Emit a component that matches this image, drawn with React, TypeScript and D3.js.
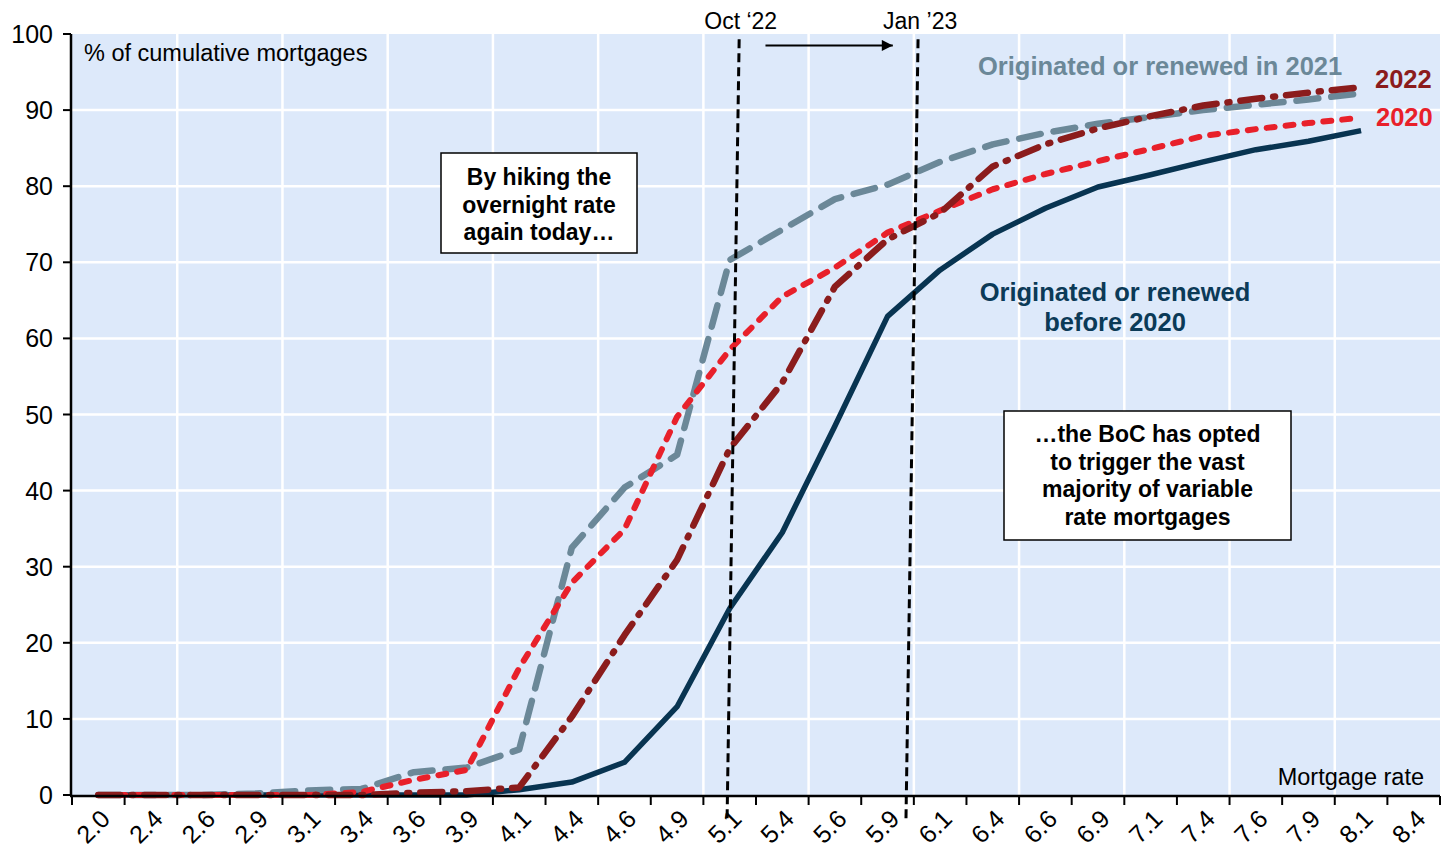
import React, { useEffect, useRef } from 'react';
import * as d3 from 'd3';

// mortgage rate buckets (category axis)
const rateLabels = [
  '2.0', '2.4', '2.6', '2.9', '3.1', '3.4', '3.6', '3.9', '4.1', '4.4', '4.6', '4.9', '5.1',
  '5.4', '5.6', '5.9', '6.1', '6.4', '6.6', '6.9', '7.1', '7.4', '7.6', '7.9', '8.1', '8.4',
];

// % of cumulative mortgages, one value per rate bucket (2.0 .. 8.1)
const before2020 = [
  0, 0, 0, 0, 0, 0, 0, 0, 0.7, 1.7, 4.3, 11.6, 24.5, 34.5, 48.5, 62.9, 69, 73.7, 77.1, 79.9,
  81.5, 83.2, 84.8, 85.9, 87.3,
];
const in2020 = [
  0, 0, 0, 0, 0, 0.4, 2.0, 3.3, 16.7, 27.9, 34.9, 49.7, 58.5, 65.5, 69.3, 73.9, 76.8, 79.6,
  81.6, 83.3, 84.9, 86.6, 87.5, 88.3, 89,
];
const in2021 = [
  0, 0, 0, 0.2, 0.6, 0.8, 3.0, 3.6, 6.0, 32.5, 40.4, 44.7, 70.3, 74.3, 78.3, 80.2, 83.2, 85.5,
  87.0, 88.2, 89.1, 90.0, 90.7, 91.4, 92.2,
];
const in2022 = [
  0, 0, 0, 0, 0, 0, 0.3, 0.5, 1.0, 10.3, 21, 30.9, 45.5, 54.2, 66.8, 73, 76.5, 82.6, 85.5,
  87.6, 89.2, 90.6, 91.5, 92.3, 93,
];

const yTicks = [0, 10, 20, 30, 40, 50, 60, 70, 80, 90, 100];

interface Series {
  name: string;
  values: number[];
  color: string;
  width: number;
  dash: string | null;
}

const series: Series[] = [
  { name: 'before2020', values: before2020, color: '#083451', width: 5.5, dash: null },
  { name: '2021', values: in2021, color: '#6b8898', width: 6.5, dash: '22 13' },
  { name: '2020', values: in2020, color: '#e8202a', width: 6, dash: '8 11' },
  { name: '2022', values: in2022, color: '#8b1c1c', width: 6.5, dash: '22 11 2 11' },
];

const FONT = '"Liberation Sans", Arial, Helvetica, sans-serif';

export default function App() {
  const ref = useRef<HTMLDivElement>(null);

  useEffect(() => {
    const width = 1450;
    const height = 848;
    const margin = { top: 34, right: 10, bottom: 53, left: 72 };

    const root = d3.select(ref.current);
    root.selectAll('*').remove();

    const svg = root
      .append('svg')
      .attr('width', width)
      .attr('height', height)
      .style('display', 'block')
      .style('font-family', FONT);

    // position along the category axis: bucket i is centred on i + 0.5
    const xScale = d3
      .scaleLinear()
      .domain([0, rateLabels.length])
      .range([margin.left, width - margin.right]);

    const yScale = d3
      .scaleLinear()
      .domain([0, 100])
      .range([height - margin.bottom, margin.top]);

    const x0 = xScale(0);
    const x1 = xScale(rateLabels.length);
    const yBottom = yScale(0);
    const yTop = yScale(100);

    svg
      .append('rect')
      .attr('x', x0)
      .attr('y', yTop)
      .attr('width', x1 - x0)
      .attr('height', yBottom - yTop)
      .attr('fill', '#dde9fa');

    // grid
    svg
      .append('g')
      .selectAll('line')
      .data(yTicks.filter((t) => t > 0 && t < 100))
      .enter()
      .append('line')
      .attr('x1', x0)
      .attr('x2', x1)
      .attr('y1', (d) => yScale(d))
      .attr('y2', (d) => yScale(d))
      .attr('stroke', '#fff')
      .attr('stroke-width', 2.5);

    svg
      .append('g')
      .selectAll('line')
      .data(d3.range(2, rateLabels.length, 2))
      .enter()
      .append('line')
      .attr('x1', (d) => xScale(d))
      .attr('x2', (d) => xScale(d))
      .attr('y1', yTop)
      .attr('y2', yBottom)
      .attr('stroke', '#fff')
      .attr('stroke-width', 2.5);

    // series
    const line = d3
      .line<number>()
      .x((d, i) => xScale(i + 0.5))
      .y((d) => yScale(d));

    svg
      .append('g')
      .selectAll('path')
      .data(series)
      .enter()
      .append('path')
      .attr('d', (d) => line(d.values) as string)
      .attr('fill', 'none')
      .attr('stroke', (d) => d.color)
      .attr('stroke-width', (d) => d.width)
      .attr('stroke-dasharray', (d) => d.dash)
      .attr('stroke-linecap', (d) => (d.dash ? 'round' : 'butt'))
      .attr('stroke-linejoin', 'round');

    // axes
    const yAxis = svg.append('g');
    yAxis
      .append('line')
      .attr('x1', x0 - 1)
      .attr('x2', x0 - 1)
      .attr('y1', yTop)
      .attr('y2', yBottom + 1)
      .attr('stroke', '#000')
      .attr('stroke-width', 2.5);
    const yTick = yAxis.selectAll('g.tick').data(yTicks).enter().append('g').attr('class', 'tick');
    yTick
      .append('line')
      .attr('x1', x0 - 9)
      .attr('x2', x0 - 1)
      .attr('y1', (d) => yScale(d))
      .attr('y2', (d) => yScale(d))
      .attr('stroke', '#000')
      .attr('stroke-width', 2);
    yTick
      .append('text')
      .attr('x', x0 - 19)
      .attr('y', (d) => yScale(d))
      .attr('dy', '0.36em')
      .attr('text-anchor', 'end')
      .attr('font-size', 25)
      .text((d) => d);

    const xAxis = svg.append('g');
    xAxis
      .append('line')
      .attr('x1', x0 - 2)
      .attr('x2', x1)
      .attr('y1', yBottom + 1)
      .attr('y2', yBottom + 1)
      .attr('stroke', '#000')
      .attr('stroke-width', 2.5);
    xAxis
      .selectAll('line.tick')
      .data(d3.range(0, rateLabels.length + 1))
      .enter()
      .append('line')
      .attr('class', 'tick')
      .attr('x1', (d) => xScale(d))
      .attr('x2', (d) => xScale(d))
      .attr('y1', yBottom + 1)
      .attr('y2', yBottom + 10)
      .attr('stroke', '#000')
      .attr('stroke-width', 2);
    xAxis
      .selectAll('text')
      .data(rateLabels)
      .enter()
      .append('text')
      .attr('font-size', 25)
      .attr('text-anchor', 'end')
      .attr(
        'transform',
        (d, i) => `translate(${xScale(i + 0.5) + 1}, ${yBottom + 13}) rotate(-45)`
      )
      .attr('dy', '0.7em')
      .text((d) => d);

    // dashed date markers (Oct '22 and Jan '23)
    const markers = [
      { top: [12.68, 99.3], bottom: [12.45, -3.3], label: 'Oct \u201822', at: 12.71 },
      { top: [16.08, 99.3], bottom: [15.85, -3.3], label: 'Jan \u201923', at: 16.12 },
    ];
    svg
      .append('g')
      .selectAll('line')
      .data(markers)
      .enter()
      .append('line')
      .attr('x1', (d) => xScale(d.top[0]))
      .attr('y1', (d) => yScale(d.top[1]))
      .attr('x2', (d) => xScale(d.bottom[0]))
      .attr('y2', (d) => yScale(d.bottom[1]))
      .attr('stroke', '#000')
      .attr('stroke-width', 3)
      .attr('stroke-dasharray', '9 5');
    svg
      .append('g')
      .selectAll('text')
      .data(markers)
      .enter()
      .append('text')
      .attr('x', (d) => xScale(d.at))
      .attr('y', 29)
      .attr('text-anchor', 'middle')
      .attr('font-size', 23)
      .text((d) => d.label);

    // arrow
    svg
      .append('defs')
      .append('marker')
      .attr('id', 'arrow-head')
      .attr('viewBox', '0 0 10 10')
      .attr('refX', 10)
      .attr('refY', 5)
      .attr('markerWidth', 13)
      .attr('markerHeight', 11)
      .attr('markerUnits', 'userSpaceOnUse')
      .attr('orient', 'auto')
      .append('path')
      .attr('d', 'M0,0L10,5L0,10Z')
      .attr('fill', '#000');
    svg
      .append('line')
      .attr('x1', xScale(13.18))
      .attr('x2', xScale(15.6))
      .attr('y1', yScale(98.5))
      .attr('y2', yScale(98.5))
      .attr('stroke', '#000')
      .attr('stroke-width', 2)
      .attr('marker-end', 'url(#arrow-head)');

    // axis titles
    svg
      .append('text')
      .attr('x', x0 + 12)
      .attr('y', 61)
      .attr('font-size', 23.5)
      .text('% of cumulative mortgages');
    svg
      .append('text')
      .attr('x', x1 - 16)
      .attr('y', yBottom - 10)
      .attr('text-anchor', 'end')
      .attr('font-size', 23.5)
      .text('Mortgage rate');

    // series labels
    const bold = (x: number, y: number, color: string, lines: string[], anchor = 'start') => {
      const t = svg
        .append('text')
        .attr('font-size', 25.5)
        .attr('font-weight', 'bold')
        .attr('fill', color)
        .attr('text-anchor', anchor);
      lines.forEach((l, i) => {
        t.append('tspan')
          .attr('x', x)
          .attr('y', y + i * 30)
          .text(l);
      });
    };
    bold(978, 75, '#6b8898', ['Originated or renewed in 2021']);
    bold(1375, 88, '#8b1c1c', ['2022']);
    bold(1376, 126, '#e8202a', ['2020']);
    bold(1115, 301, '#0b3a57', ['Originated or renewed', 'before 2020'], 'middle');

    // callout boxes
    const box = (x: number, y: number, w: number, h: number, first: number, lines: string[]) => {
      const g = svg.append('g');
      g.append('rect')
        .attr('x', x)
        .attr('y', y)
        .attr('width', w)
        .attr('height', h)
        .attr('fill', '#fff')
        .attr('stroke', '#000')
        .attr('stroke-width', 1.5);
      const t = g
        .append('text')
        .attr('font-size', 23)
        .attr('font-weight', 'bold')
        .attr('text-anchor', 'middle');
      lines.forEach((l, i) => {
        t.append('tspan')
          .attr('x', x + w / 2)
          .attr('y', first + i * 27.7)
          .text(l);
      });
    };
    box(441, 153, 196, 100, 185, ['By hiking the', 'overnight rate', 'again today\u2026']);
    box(1004, 411, 287, 129, 442, [
      '\u2026the BoC has opted',
      'to trigger the vast',
      'majority of variable',
      'rate mortgages',
    ]);
  }, []);

  return <div ref={ref} style={{ position: 'absolute', left: 0, top: 0 }}></div>;
}
